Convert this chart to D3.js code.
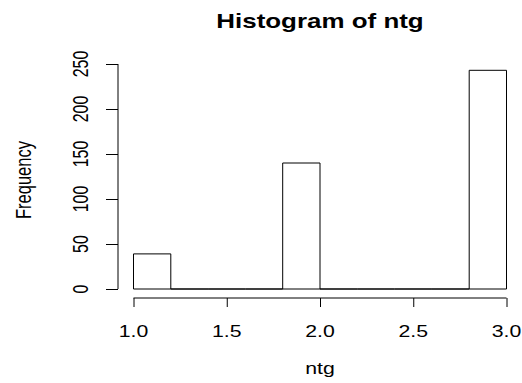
<!DOCTYPE html>
<html>
<head>
<meta charset="utf-8">
<script src="https://cdn.jsdelivr.net/npm/d3@7"></script>
<style>
  body { margin: 0; background: #fff; }
  text { font-family: "Liberation Sans", Arial, sans-serif; fill: #000; }
</style>
</head>
<body>
<div class="chart"></div>
<script>
// histogram breaks and counts per bin
const breaks = [1.0, 1.2, 1.4, 1.6, 1.8, 2.0, 2.2, 2.4, 2.6, 2.8, 3.0];
const counts = [39, 0, 0, 0, 140, 0, 0, 0, 0, 243];
const xTicks = [1.0, 1.5, 2.0, 2.5, 3.0];
const yTicks = [0, 50, 100, 150, 200, 250];

const width = 522, height = 383;
const sx = 1.33; // text in the picture is stretched sideways

const bins = counts.map((c, i) => ({x0: breaks[i], x1: breaks[i + 1], n: c}));

const svg = d3.select('.chart')
  .append('svg')
  .attr('width', width)
  .attr('height', height);

const x = d3.scaleLinear().domain([1, 3]).range([133.5, 506.5]);
const y = d3.scaleLinear().domain([0, 250]).range([289, 64]);

// bars (drawn as paths so empty bins still show their baseline)
svg.selectAll('.bar')
  .data(bins)
  .enter()
  .append('path')
  .attr('class', 'bar')
  .attr('d', d => `M${x(d.x0)},${y(0)}V${y(d.n)}H${x(d.x1)}V${y(0)}Z`)
  .style('fill', 'none')
  .style('stroke', '#000')
  .style('stroke-width', 1);

// x axis
const xAxis = svg.append('g')
  .attr('transform', 'translate(0, 298)')
  .call(d3.axisBottom(x).tickValues(xTicks).tickFormat(d3.format('.1f')).tickSize(9));

// y axis
const yAxis = svg.append('g')
  .attr('transform', 'translate(118, 0)')
  .call(d3.axisLeft(y).tickValues(yTicks).tickSize(12));

[xAxis, yAxis].forEach(g => {
  g.selectAll('.tick line').attr('stroke', '#000');
  g.selectAll('.tick text').remove();
  g.select('.domain').attr('stroke', '#000');
});
xAxis.select('.domain').attr('d', `M${x(1)},0H${x(3)}`);
yAxis.select('.domain').attr('d', `M0,${y(0)}V${y(250)}`);

// tick labels
svg.selectAll('.xlab')
  .data(xTicks)
  .enter()
  .append('text')
  .attr('class', 'xlab')
  .attr('transform', d => `translate(${x(d)}, 337) scale(${sx}, 1)`)
  .attr('text-anchor', 'middle')
  .style('font-size', '16px')
  .text(d3.format('.1f'));

svg.selectAll('.ylab')
  .data(yTicks)
  .enter()
  .append('text')
  .attr('class', 'ylab')
  .attr('transform', d => `translate(88, ${y(d)}) scale(${sx}, 1) rotate(-90)`)
  .attr('text-anchor', 'middle')
  .style('font-size', '16px')
  .text(d => d);

// title and axis titles
svg.append('text')
  .attr('transform', `translate(${x(2)}, 28) scale(${sx}, 1)`)
  .attr('text-anchor', 'middle')
  .style('font-weight', 'bold')
  .style('font-size', '19.5px')
  .text('Histogram of ntg');

svg.append('text')
  .attr('transform', `translate(${x(2)}, 374) scale(${sx}, 1)`)
  .attr('text-anchor', 'middle')
  .style('font-size', '16px')
  .text('ntg');

svg.append('text')
  .attr('transform', `translate(31, 180) scale(${sx}, 1) rotate(-90)`)
  .attr('text-anchor', 'middle')
  .style('font-size', '16.5px')
  .text('Frequency');
</script>
</body>
</html>
